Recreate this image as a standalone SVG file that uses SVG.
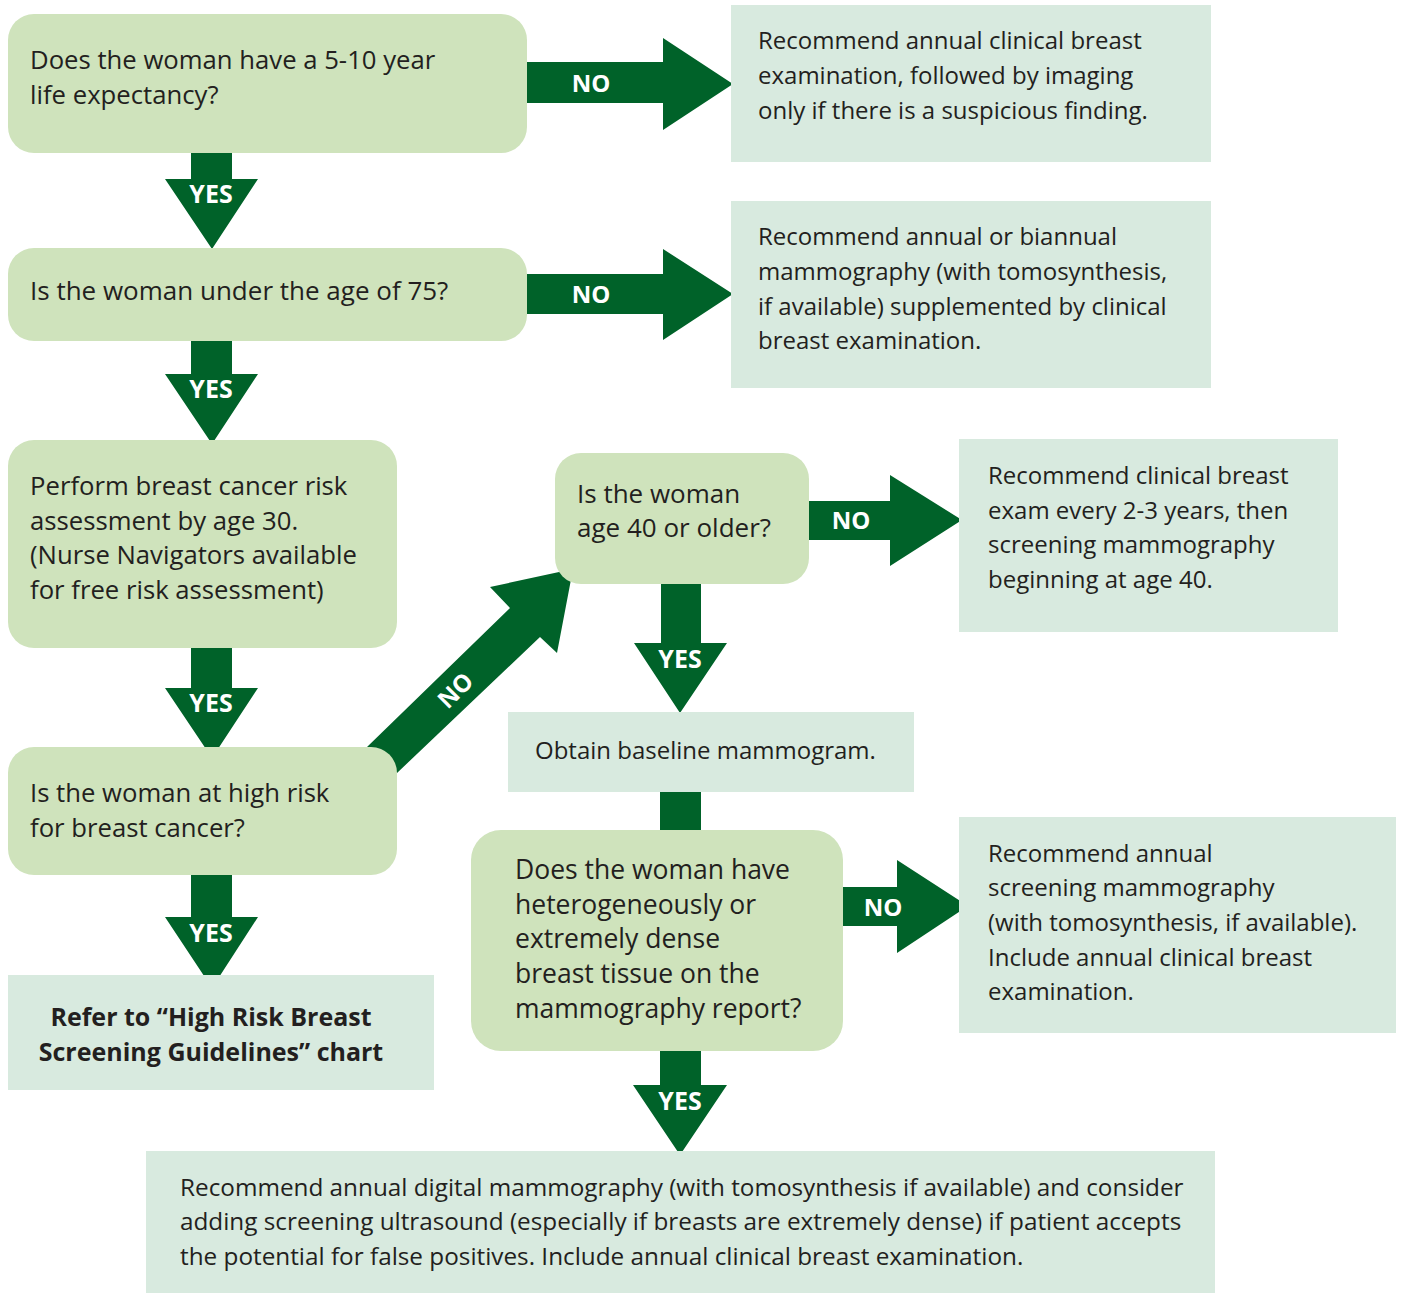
<svg xmlns="http://www.w3.org/2000/svg" width="1401" height="1294" viewBox="0 0 1401 1294">
<style>
.q{fill:#cfe3bc}
.r{fill:#d8eadf}
.a{fill:#006229}
.t{font-family:"Open Sans","Noto Sans",sans-serif;font-size:24px;fill:#231f20}
.qt{font-size:25.7px}
.b{font-weight:bold;font-size:25px}
.l{font-family:"Open Sans","Noto Sans",sans-serif;font-size:24px;font-weight:bold;fill:#ffffff;text-anchor:middle}
.y{font-size:25px}
</style>
<rect width="1401" height="1294" fill="#ffffff"/>
<g id="connectors">
<polygon class="a" points="527,62 663,62 663,38 733,84 663,130 663,103 527,103"/>
<polygon class="a" points="527,274 663,274 663,249 733,294 663,340 663,314 527,314"/>
<polygon class="a" points="191,153 232,153 232,179 258,179 212,249 165,179 191,179"/>
<polygon class="a" points="191,341 232,341 232,374 258,374 212,444 165,374 191,374"/>
<polygon class="a" points="191,648 232,648 232,688 258,688 212,758 165,688 191,688"/>
<polygon class="a" points="191,875 232,875 232,917 258,917 212,988 165,917 191,917"/>
<polygon class="a" points="367,747 510,608 490,587 573,569 557,653 540,637 397,773"/>
<polygon class="a" points="809,501 890,501 890,475 962,520 890,566 890,540 809,540"/>
<polygon class="a" points="661,584 701,584 701,643 727,643 680,713 634,643 661,643"/>
<rect class="a" x="660" y="792" width="41" height="40"/>
<polygon class="a" points="843,887 897,887 897,860 968,906 897,953 897,926 843,926"/>
<polygon class="a" points="660,1051 701,1051 701,1085 727,1085 680,1155 633,1085 660,1085"/>
<text class="l" x="591" y="92">NO</text>
<text class="l" x="591" y="303">NO</text>
<text class="l y" x="211" y="203">YES</text>
<text class="l y" x="211" y="398">YES</text>
<text class="l y" x="211" y="712">YES</text>
<text class="l y" x="211" y="942">YES</text>
<text class="l" x="851" y="529">NO</text>
<text class="l y" x="680" y="668">YES</text>
<text class="l" x="883" y="916">NO</text>
<text class="l y" x="680" y="1110">YES</text>
<text class="l" transform="translate(455,690) rotate(-45)" x="0" y="9">NO</text>
</g>
<g id="n1"><rect class="q" x="8" y="14" width="519" height="139" rx="26"/>
<text class="t qt"><tspan x="30" y="69">Does the woman have a 5-10 year</tspan><tspan x="30" y="104">life expectancy?</tspan></text></g>
<g id="r1"><rect class="r" x="731" y="5" width="480" height="157"/>
<text class="t"><tspan x="758" y="49">Recommend annual clinical breast</tspan><tspan x="758" y="84">examination, followed by imaging</tspan><tspan x="758" y="119">only if there is a suspicious finding.</tspan></text></g>
<g id="n2"><rect class="q" x="8" y="248" width="519" height="93" rx="26"/>
<text class="t" style="font-size:26px" x="30" y="300">Is the woman under the age of 75?</text></g>
<g id="r2"><rect class="r" x="731" y="201" width="480" height="187"/>
<text class="t"><tspan x="758" y="245">Recommend annual or biannual</tspan><tspan x="758" y="280">mammography (with tomosynthesis,</tspan><tspan x="758" y="315">if available) supplemented by clinical</tspan><tspan x="758" y="349">breast examination.</tspan></text></g>
<g id="n3"><rect class="q" x="8" y="440" width="389" height="208" rx="26"/>
<text class="t qt"><tspan x="30" y="495">Perform breast cancer risk</tspan><tspan x="30" y="530">assessment by age 30.</tspan><tspan x="30" y="564">(Nurse Navigators available</tspan><tspan x="30" y="599">for free risk assessment)</tspan></text></g>
<g id="n4"><rect class="q" x="8" y="747" width="389" height="128" rx="26"/>
<text class="t qt"><tspan x="30" y="802">Is the woman at high risk</tspan><tspan x="30" y="837">for breast cancer?</tspan></text></g>
<g id="r4"><rect class="r" x="8" y="975" width="426" height="115"/>
<text class="t b" text-anchor="middle"><tspan x="211" y="1026">Refer to “High Risk Breast</tspan><tspan x="211" y="1061">Screening Guidelines” chart</tspan></text></g>
<g id="n5"><rect class="q" x="555" y="453" width="254" height="131" rx="26"/>
<text class="t" style="font-size:26px"><tspan x="577" y="503">Is the woman</tspan><tspan x="577" y="537">age 40 or older?</tspan></text></g>
<g id="r5"><rect class="r" x="959" y="439" width="379" height="193"/>
<text class="t"><tspan x="988" y="484">Recommend clinical breast</tspan><tspan x="988" y="519">exam every 2-3 years, then</tspan><tspan x="988" y="553">screening mammography</tspan><tspan x="988" y="588">beginning at age 40.</tspan></text></g>
<g id="r5b"><rect class="r" x="508" y="712" width="406" height="80"/>
<text class="t" x="535" y="759">Obtain baseline mammogram.</text></g>
<g id="n6"><rect class="q" x="471" y="830" width="372" height="221" rx="30"/>
<text class="t" style="font-size:26.5px"><tspan x="515" y="879">Does the woman have</tspan><tspan x="515" y="914">heterogeneously or</tspan><tspan x="515" y="948">extremely dense</tspan><tspan x="515" y="983">breast tissue on the</tspan><tspan x="515" y="1018">mammography report?</tspan></text></g>
<g id="r6"><rect class="r" x="959" y="817" width="437" height="216"/>
<text class="t"><tspan x="988" y="862">Recommend annual</tspan><tspan x="988" y="896">screening mammography</tspan><tspan x="988" y="931">(with tomosynthesis, if available).</tspan><tspan x="988" y="966">Include annual clinical breast</tspan><tspan x="988" y="1000">examination.</tspan></text></g>
<g id="r7"><rect class="r" x="146" y="1151" width="1069" height="142"/>
<text class="t" style="font-size:24.3px"><tspan x="180" y="1196">Recommend annual digital mammography (with tomosynthesis if available) and consider</tspan><tspan x="180" y="1230">adding screening ultrasound (especially if breasts are extremely dense) if patient accepts</tspan><tspan x="180" y="1265">the potential for false positives. Include annual clinical breast examination.</tspan></text></g>
</svg>
